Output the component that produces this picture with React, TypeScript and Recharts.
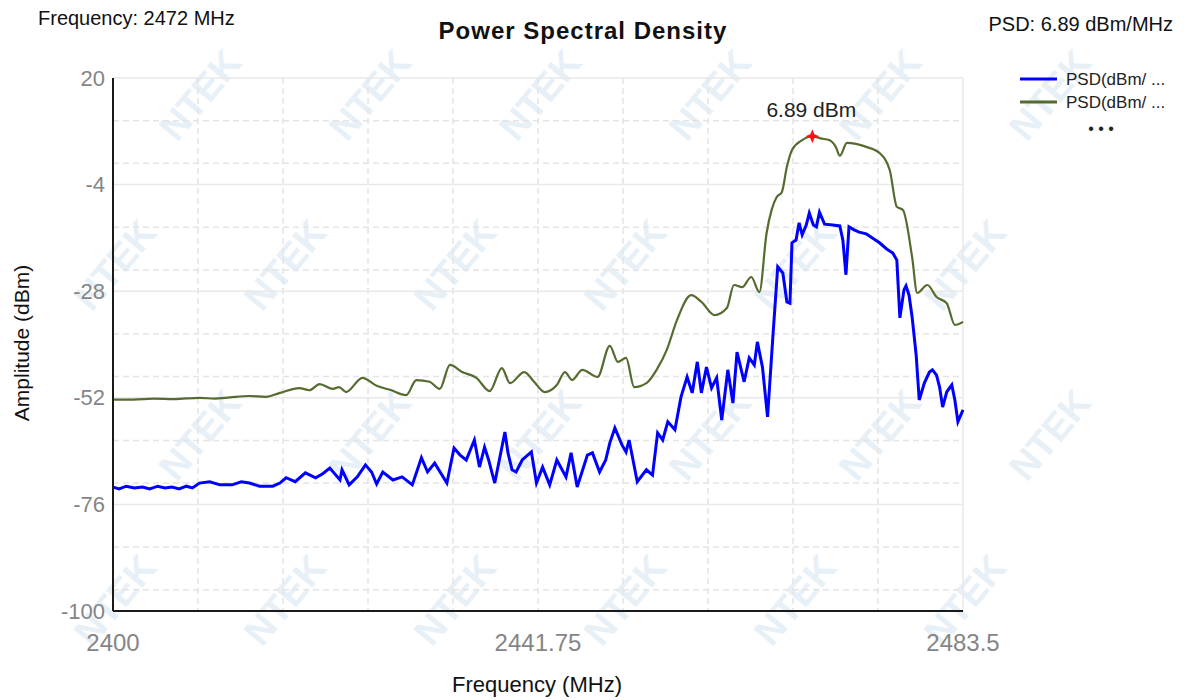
import React from "react";
import { LineChart, Line, XAxis, YAxis, CartesianGrid, ReferenceDot } from "recharts";

// axis ticks
const freqTicks = [2400, 2441.75, 2483.5];
const ampTicks = [20, -4, -28, -52, -76, -100];

// green trace (max hold), MHz / dBm
const greenFreq = [
  2400, 2402, 2404, 2406, 2408.5, 2410, 2411.5, 2413.4, 2415, 2416.4, 2418.3, 2419.3, 2420.3,
  2421.6, 2422.2, 2422.9, 2424.5, 2425.9, 2427.2, 2428.8, 2429.8, 2431.1, 2432.1, 2433.1, 2434.3,
  2435.7, 2437, 2438.2, 2439, 2440.4, 2441.4, 2442.4, 2443.6, 2444.4, 2445.1, 2446.1, 2447.6,
  2448.8, 2449.6, 2450.4, 2451.2, 2452.4, 2453.4, 2454.4, 2455.4, 2456.8, 2457.8, 2459.1, 2460.3,
  2461, 2461.8, 2462.7, 2463.5, 2464.2, 2464.7, 2465.2, 2465.7, 2466.2, 2466.7, 2467.7, 2468.7,
  2469.5, 2470.4, 2471, 2471.4, 2472.1, 2474, 2475.3, 2476.3, 2477, 2477.6, 2478.5, 2479, 2480,
  2480.9, 2481.9, 2482.7, 2483.5,
];
const greenPsd = [
  -52.4, -52.4, -52.2, -52.3, -52.0, -52.2, -51.9, -51.6, -51.8, -50.9, -49.8, -50.3, -48.9,
  -50.0, -49.6, -50.7, -47.5, -49.3, -50.2, -51.4, -48.0, -48.4, -50.0, -44.6, -46.2,
  -47.5, -50.5, -45.3, -48.7, -46.2, -48.5, -50.7, -49.1, -46.2, -48.0, -45.7, -47.3,
  -40.3, -43.9, -43.0, -49.6, -48.7, -45.7, -41.2, -34.5, -28.9, -30.4, -33.4, -31.8,
  -26.6, -27.1, -24.8, -28.2, -15.0, -9.7, -6.8, -5.7, 0.0, 3.8, 6.0, 6.89,
  6.4, 6.0, 4.5, 2.5, 5.4, 4.5, 3.1, -0.7, -9.0, -9.7, -20.3, -28.4, -26.6,
  -29.3, -30.7, -35.6, -34.9,
];

// blue trace (sample), MHz / dBm
const blueFreq = [
  2400, 2400.6, 2401.3, 2402.1, 2402.9, 2403.6, 2404.4, 2405.1, 2405.8, 2406.5, 2407.2, 2407.8,
  2408.5, 2409.5, 2410.5, 2411.7, 2412.6, 2413.4, 2414.4, 2415.7, 2416.4, 2417, 2417.9, 2418.9,
  2419.9, 2420.6, 2421.3, 2422.3, 2422.5, 2423.2, 2424, 2424.8, 2425.4, 2425.9, 2426.5, 2427.5,
  2428.4, 2429.4, 2430.3, 2430.9, 2431.6, 2432.8, 2433.5, 2434.1, 2434.7, 2435.5, 2436, 2436.5,
  2436.9, 2437.5, 2438.5, 2438.8, 2439.2, 2439.6, 2440.2, 2441.1, 2441.6, 2442.2, 2442.9, 2443.6,
  2444.5, 2445, 2445.6, 2446.6, 2447.1, 2447.8, 2448.4, 2448.8, 2449.3, 2450, 2450.4, 2450.7,
  2451.5, 2452.4, 2453, 2453.5, 2454, 2454.5, 2455.2, 2455.8, 2456.4, 2456.9, 2457.4, 2457.8,
  2458.3, 2458.8, 2459.3, 2459.8, 2460.4, 2460.9, 2461.3, 2462, 2462.5, 2463, 2463.3, 2463.8,
  2464.3, 2464.8, 2465.3, 2465.8, 2466.2, 2466.5, 2466.7, 2467.1, 2467.4, 2467.7, 2468.1, 2468.4,
  2468.8, 2469.1, 2469.4, 2469.9, 2470.7, 2471.4, 2471.7, 2472, 2472.3, 2472.8, 2473.3, 2474,
  2474.6, 2475.3, 2476, 2476.6, 2477, 2477.3, 2477.7, 2477.9, 2478.2, 2478.5, 2478.9, 2479.2,
  2479.7, 2480.2, 2480.5, 2480.9, 2481.2, 2481.5, 2481.9, 2482.4, 2482.7, 2483, 2483.5,
];
const bluePsd = [
  -72.1, -72.5, -71.9, -72.3, -72.1, -72.5, -71.9, -72.3, -72.1, -72.5, -71.9, -72.3,
  -71.2, -70.9, -71.6, -71.6, -70.9, -71.2, -71.9, -71.9, -71.2, -70.0, -70.9, -68.9,
  -70.0, -69.1, -67.8, -70.5, -68.2, -71.6, -69.8, -67.1, -68.7, -71.4, -68.7, -70.5,
  -69.8, -71.6, -65.5, -68.7, -66.7, -71.2, -63.3, -64.9, -66.0, -61.5, -67.6, -63.1,
  -66.0, -71.2, -59.7, -64.4, -68.2, -68.7, -66.0, -64.2, -71.2, -67.6, -71.6, -66.0,
  -69.8, -64.4, -72.1, -64.9, -64.4, -68.7, -66.0, -62.2, -58.8, -62.6, -64.2, -61.5,
  -70.9, -68.2, -69.4, -59.9, -61.5, -57.4, -59.2, -51.8, -47.3, -50.9, -43.9, -50.9,
  -45.1, -49.8, -47.5, -57.0, -45.7, -53.2, -41.7, -48.4, -43.0, -44.6, -39.4, -45.1,
  -56.3, -39.0, -22.5, -23.9, -30.4, -30.7, -17.1, -16.5, -12.6, -15.3, -13.1, -10.4,
  -13.1, -13.5, -10.2, -12.9, -13.1, -13.3, -16.5, -24.3, -13.5, -14.2, -14.7, -15.1,
  -16.0, -17.1, -18.5, -19.4, -21.0, -34.0, -27.7, -26.8, -28.9, -33.8, -42.4, -52.5,
  -48.7, -46.2, -45.7, -46.9, -49.6, -54.1, -50.7, -49.1, -52.5, -57.4, -54.7,
];

const peakFreq = 2468.7;
const peakPsd = 6.89;

type Row = { f: number; blue?: number; green?: number };
const byFreq = new Map<number, Row>();
blueFreq.forEach((f, i) => {
  const r = byFreq.get(f) ?? { f };
  r.blue = bluePsd[i];
  byFreq.set(f, r);
});
greenFreq.forEach((f, i) => {
  const r = byFreq.get(f) ?? { f };
  r.green = greenPsd[i];
  byFreq.set(f, r);
});
const data = [...byFreq.values()].sort((a, b) => a.f - b.f);

// minor grid: 5 steps per major y step, 10 steps over the span in x
const minorY: number[] = [];
for (let i = 0; i < ampTicks.length - 1; i++) {
  const step = (ampTicks[i] - ampTicks[i + 1]) / 5;
  for (let k = 1; k < 5; k++) minorY.push(ampTicks[i] - k * step);
}
const gridX: number[] = [];
for (let k = 1; k < 10; k++) gridX.push(2400 + (k * (2483.5 - 2400)) / 10);

const FONT = '"Liberation Sans", Arial, sans-serif';
const TICK = "#858585";

function YTick({ y, payload }: any) {
  return (
    <text x={105} y={y} textAnchor="end" dominantBaseline="central" fontSize={22} fill={TICK} fontFamily={FONT}>
      {payload.value}
    </text>
  );
}

function XTick({ x, payload }: any) {
  return (
    <text x={x} y={642} textAnchor="middle" dominantBaseline="central" fontSize={24} fill={TICK} fontFamily={FONT}>
      {payload.value}
    </text>
  );
}

function PeakMark({ cx, cy }: any) {
  return (
    <g>
      <path
        d={`M${cx},${cy - 7} L${cx + 2},${cy - 2} L${cx + 7},${cy} L${cx + 2},${cy + 2} L${cx},${cy + 7} L${cx - 2},${cy + 2} L${cx - 7},${cy} L${cx - 2},${cy - 2} Z`}
        fill="#ff1010"
      />
      <text x={cx - 1} y={cy - 27} textAnchor="middle" dominantBaseline="central" fontSize={21} fill="#222" fontFamily={FONT}>
        {peakPsd} dBm
      </text>
    </g>
  );
}

// faint NTEK watermark lattice (kept clear of the page edges)
const wmRows = [95, 265, 435, 600];
const wmCols = [30, 200, 370, 540, 710, 880, 1050, 1220];
const wmSpots: [number, number][] = [];
wmRows.forEach((ry, r) =>
  wmCols.forEach((cx) => {
    const x = cx - (r % 2) * 85;
    if (x > 60 && x < 1130) wmSpots.push([x, ry]);
  })
);

export default function App() {
  return (
    <div style={{ position: "absolute", left: 0, top: 0, width: 1186, height: 700, background: "#fff", fontFamily: FONT }}>
      <svg width={1186} height={700} style={{ position: "absolute", left: 0, top: 0 }}>
        {wmSpots.map(([x, y]) => (
          <text
            key={`${x}-${y}`}
            x={x}
            y={y}
            transform={`rotate(-50 ${x} ${y})`}
            textAnchor="middle"
            dominantBaseline="central"
            fontSize={38}
            fontWeight="bold"
            fill="#e8f0f7"
            fontFamily={FONT}
          >
            NTEK
          </text>
        ))}
      </svg>
      <div style={{ position: "absolute", left: 0, top: 0 }}>
        <LineChart width={1186} height={700} data={data} margin={{ top: 78, right: 223, bottom: 59, left: 73 }}>
          <CartesianGrid horizontalValues={ampTicks} verticalValues={[2483.5]} stroke="#e9e9e9" strokeWidth={1.5} />
          <CartesianGrid horizontalValues={minorY} verticalValues={gridX} stroke="#e4e4e4" strokeDasharray="6 4" strokeWidth={1.5} />
          <XAxis
            dataKey="f"
            type="number"
            domain={[2400, 2483.5]}
            ticks={freqTicks}
            height={30}
            tickLine={false}
            axisLine={{ stroke: "#1a1a1a", strokeWidth: 2 }}
            tick={<XTick />}
          />
          <YAxis
            type="number"
            domain={[-100, 20]}
            ticks={ampTicks}
            width={40}
            tickLine={false}
            axisLine={{ stroke: "#1a1a1a", strokeWidth: 2 }}
            tick={<YTick />}
          />
          <Line
            type="linear"
            dataKey="blue"
            stroke="#0000ff"
            strokeWidth={3}
            dot={false}
            connectNulls
            isAnimationActive={false}
          />
          <Line
            type="monotone"
            dataKey="green"
            stroke="#556b2f"
            strokeWidth={2.2}
            dot={false}
            connectNulls
            isAnimationActive={false}
          />
          <ReferenceDot x={peakFreq} y={peakPsd} shape={<PeakMark />} />
        </LineChart>
      </div>
      <svg width={1186} height={700} style={{ position: "absolute", left: 0, top: 0, pointerEvents: "none" }}>
        <text x={38} y={18} dominantBaseline="central" fontSize={20} fill="#111" fontFamily={FONT}>
          Frequency: 2472 MHz
        </text>
        <text x={583} y={30} textAnchor="middle" dominantBaseline="central" fontSize={24} fontWeight="bold" letterSpacing={1} fill="#111" fontFamily={FONT}>
          Power Spectral Density
        </text>
        <text x={1173} y={24} textAnchor="end" dominantBaseline="central" fontSize={20} fill="#111" fontFamily={FONT}>
          PSD: 6.89 dBm/MHz
        </text>
        <line x1={1020} x2={1057} y1={79} y2={79} stroke="#0000ff" strokeWidth={3} />
        <text x={1066} y={79} dominantBaseline="central" fontSize={17} fill="#222" fontFamily={FONT}>
          PSD(dBm/ ...
        </text>
        <line x1={1020} x2={1057} y1={102} y2={102} stroke="#556b2f" strokeWidth={3} />
        <text x={1066} y={102} dominantBaseline="central" fontSize={17} fill="#222" fontFamily={FONT}>
          PSD(dBm/ ...
        </text>
        <text x={1101} y={128} textAnchor="middle" dominantBaseline="central" fontSize={16} fill="#222" fontFamily={FONT}>
          • • •
        </text>
        <text
          x={21}
          y={343}
          transform="rotate(-90 21 343)"
          textAnchor="middle"
          dominantBaseline="central"
          fontSize={21}
          fill="#111"
          fontFamily={FONT}
        >
          Amplitude (dBm)
        </text>
        <text x={537} y={684} textAnchor="middle" dominantBaseline="central" fontSize={22} fill="#111" fontFamily={FONT}>
          Frequency (MHz)
        </text>
      </svg>
    </div>
  );
}
